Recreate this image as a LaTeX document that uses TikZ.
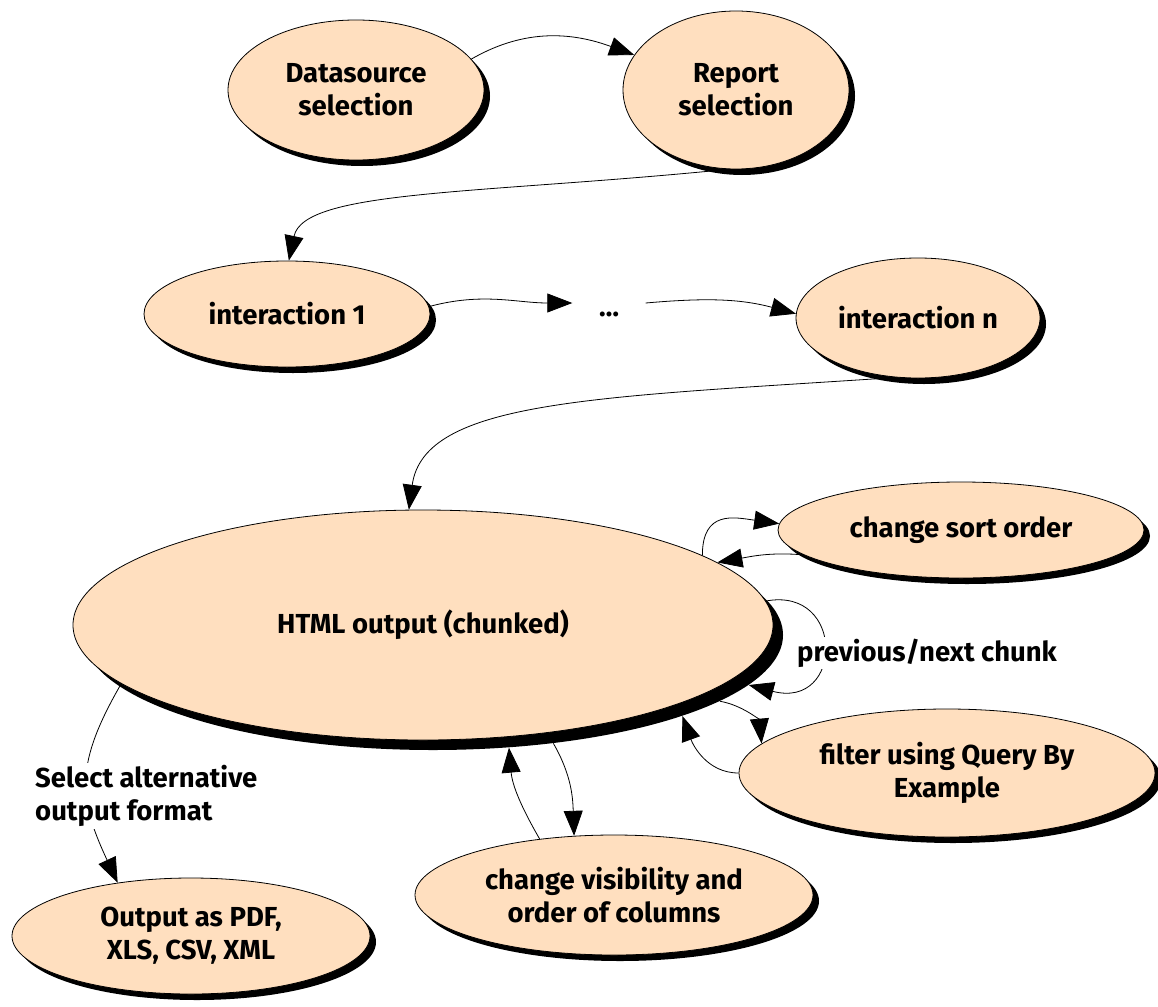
\documentclass[tikz,border=0pt]{standalone}
\usepackage{fontspec}
\setmainfont{Fira Sans}
\usetikzlibrary{arrows.meta,shapes.geometric,shadows}
\definecolor{peach}{RGB}{255,223,191}
\tikzset{
  txt/.style={font=\fontsize{27.5}{33}\selectfont\bfseries},
  base/.style={txt, ellipse, draw=black, line width=0.8pt, fill=peach, inner sep=0pt, align=center},
  state/.style={base, drop shadow={shadow xshift=6pt, shadow yshift=-6pt, opacity=1, fill=black}},
  bigstate/.style={base, drop shadow={shadow xshift=10pt, shadow yshift=-10pt, opacity=1, fill=black}},
  conn/.style={-{Triangle[length=25pt,width=19pt]}, line width=0.8pt},
  lbl/.style={txt, fill=white, inner sep=2pt, align=left}
}
\begin{document}
\begin{tikzpicture}
\useasboundingbox (0,0) rectangle (1158pt,-1006pt);
\begin{scope}[x=1pt,y=1pt]
\node[state, minimum width=256pt, minimum height=140pt] (ds) at (356,-90) {Datasource\\selection};
\node[state, minimum width=226pt, minimum height=158pt] (rs) at (736,-90) {Report\\selection};
\node[state, minimum width=286pt, minimum height=106pt] (i1) at (287,-314) {interaction 1};
\node[txt, text height=26pt, text depth=0pt, minimum width=73pt, inner sep=0pt] (dots) at (609,-303) {\dots};
\node[state, minimum width=244pt, minimum height=120pt] (in) at (918,-318) {interaction n};
\node[bigstate, minimum width=700pt, minimum height=230pt] (html) at (423,-625) {HTML output (chunked)};
\node[state, minimum width=366pt, minimum height=96pt] (sort) at (961,-530) {change sort order};
\node[state, minimum width=416pt, minimum height=128pt] (qbe) at (947,-773) {filter using Query By\\Example};
\node[state, minimum width=398pt, minimum height=120pt] (cv) at (614,-895) {change visibility and\\order of columns};
\node[state, minimum width=358pt, minimum height=116pt] (out) at (191,-936) {Output as PDF,\\XLS, CSV, XML};

\draw[conn] (ds.15) to[out=30, in=160] (rs.161);
\draw[conn] (rs.-95) .. controls +(-250,-25) and +(15,71) .. (i1.88);
\draw[conn] (i1.3) to[out=15, in=180] (dots.west);
\draw[conn] (dots.east) to[out=5, in=165] (in.178);
\draw[conn] (in.-110) .. controls +(-300,-20) and +(15,110) .. (html.97);
\draw[conn] (html.14) to[out=90, in=172, looseness=1.4] (sort.178);
\draw[conn] (sort.-171) to[out=175, in=10] (html.12);
\draw[conn] (html.4) .. controls +(80,15) and +(95,-25) .. ([shift={(10pt,-10pt)}]html.-9);
\draw[conn] ([shift={(10pt,-10pt)}]html.-13) to[out=-10, in=95] (qbe.171);
\draw[conn] (qbe.180) to[out=180, in=-70] ([shift={(10pt,-10pt)}]html.-18);
\draw[conn] (cv.143) to[out=120, in=-85] ([shift={(10pt,-10pt)}]html.-56);
\draw[conn] ([shift={(10pt,-10pt)}]html.-42) to[out=-60, in=92] (cv.124);
\draw[conn] (html.191) to[out=-120, in=115, looseness=1.2] (out.144);

\node[lbl, anchor=west] (sel) at (33,-796) {Select alternative\\output format};
\node[lbl, anchor=west] (pn) at (795,-653) {previous/next chunk};
\end{scope}
\end{tikzpicture}
\end{document}
